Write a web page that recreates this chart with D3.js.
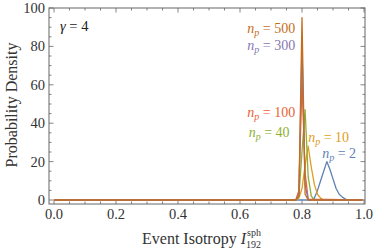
<!DOCTYPE html>
<html>
<head>
<meta charset="utf-8">
<script src="https://cdn.jsdelivr.net/npm/d3@7"></script>
<style>
  body { margin: 0; background: #fff; }
  text { font-family: "Liberation Serif", "Times New Roman", "DejaVu Serif", serif; }
</style>
</head>
<body>
<svg id="chart" width="374" height="250"></svg>
<script>
// ---- data ----
const xTicks = [0.0, 0.2, 0.4, 0.6, 0.8, 1.0];
const yTicks = [0, 20, 40, 60, 80, 100];

const np2x   = [0, 0.83, 0.84, 0.85, 0.86, 0.87, 0.88, 0.89, 0.90, 0.91, 0.92, 0.93, 0.94, 0.95, 0.995];
const np2y   = [0, 0, 1, 5, 10, 15, 20, 16, 11, 6, 3, 1.5, 0.5, 0, 0];
const np10x  = [0, 0.78, 0.79, 0.80, 0.81, 0.82, 0.83, 0.84, 0.85, 0.86, 0.87, 0.995];
const np10y  = [0, 0, 1, 6, 18, 28, 17, 8, 3, 1, 0, 0];
const np40x  = [0, 0.78, 0.79, 0.80, 0.81, 0.82, 0.83, 0.84, 0.995];
const np40y  = [0, 0, 2, 25, 47, 12, 2, 0, 0];
const np100x = [0, 0.78, 0.79, 0.80, 0.81, 0.82, 0.995];
const np100y = [0, 0, 5, 62, 14, 0.5, 0];
const np300x = [0, 0.78, 0.79, 0.80, 0.81, 0.82, 0.995];
const np300y = [0, 0, 3, 80, 8, 0, 0];
const np500x = [0, 0.78, 0.79, 0.80, 0.81, 0.82, 0.995];
const np500y = [0, 0, 2, 95, 3, 0, 0];

const seriesNames = ["2", "10", "40", "100", "300", "500"];
const seriesColors = ["#5E81B5", "#E19C24", "#8FB032", "#EB6235", "#8778B3", "#C56E1A"];
const seriesXs = [np2x, np10x, np40x, np100x, np300x, np500x];
const seriesYs = [np2y, np10y, np40y, np100y, np300y, np500y];

// label anchors (data coords) and alignment
const labelPos = [
    { x: 0.865, y: 22, anchor: "start" },
    { x: 0.82,  y: 30, anchor: "start" },
    { x: 0.76,  y: 33, anchor: "end" },
    { x: 0.778, y: 43, anchor: "end" },
    { x: 0.778, y: 78, anchor: "end" },
    { x: 0.778, y: 87, anchor: "end" }
];

// ---- layout ----
const svg = d3.select("#chart");
const frame = { left: 49, right: 365, top: 8, bottom: 204 };

const x = d3.scaleLinear().domain([0, 1]).range([54, 364]);
const y = d3.scaleLinear().domain([0, 100]).range([200, 8]);

const frameColor = "#666";

// frame
svg.append("rect")
    .attr("x", frame.left).attr("y", frame.top)
    .attr("width", frame.right - frame.left)
    .attr("height", frame.bottom - frame.top)
    .attr("fill", "none")
    .attr("stroke", frameColor)
    .attr("stroke-width", 1);

// ticks (pointing inward) on all four sides
const xMinor = d3.range(0, 1.0001, 0.05);
const yMinor = d3.range(0, 100.001, 5);
const isMajorX = v => Math.abs(v * 5 - Math.round(v * 5)) < 1e-6;
const isMajorY = v => v % 20 === 0;

const tickG = svg.append("g").attr("stroke", frameColor).attr("stroke-width", 0.8);
xMinor.forEach(v => {
    const len = isMajorX(v) ? 4.5 : 2.5;
    tickG.append("line").attr("x1", x(v)).attr("x2", x(v))
        .attr("y1", frame.bottom).attr("y2", frame.bottom - len);
    tickG.append("line").attr("x1", x(v)).attr("x2", x(v))
        .attr("y1", frame.top).attr("y2", frame.top + len);
});
yMinor.forEach(v => {
    const len = isMajorY(v) ? 4.5 : 2.5;
    tickG.append("line").attr("y1", y(v)).attr("y2", y(v))
        .attr("x1", frame.left).attr("x2", frame.left + len);
    tickG.append("line").attr("y1", y(v)).attr("y2", y(v))
        .attr("x1", frame.right).attr("x2", frame.right - len);
});

// tick labels
svg.append("g").selectAll("text").data(xTicks).join("text")
    .attr("x", d => x(d)).attr("y", 219)
    .attr("text-anchor", "middle")
    .attr("font-size", 14.5).attr("fill", "#333")
    .text(d => d.toFixed(1));

svg.append("g").selectAll("text").data(yTicks).join("text")
    .attr("x", 45).attr("y", d => y(d) + 5)
    .attr("text-anchor", "end")
    .attr("font-size", 14.5).attr("fill", "#333")
    .text(d => d);

// series lines
const line = d3.line().x(d => x(d[0])).y(d => y(d[1]));
seriesNames.forEach((name, i) => {
    const pts = seriesXs[i].map((v, j) => [v, seriesYs[i][j]]);
    svg.append("path")
        .datum(pts)
        .attr("d", line)
        .attr("fill", "none")
        .attr("stroke", seriesColors[i])
        .attr("stroke-width", 1.3)
        .attr("stroke-linejoin", "round");
});

// series labels
seriesNames.forEach((name, i) => {
    const p = labelPos[i];
    const t = svg.append("text")
        .attr("x", x(p.x)).attr("y", y(p.y))
        .attr("text-anchor", p.anchor)
        .attr("font-size", 14)
        .attr("fill", seriesColors[i]);
    t.append("tspan").attr("font-style", "italic").text("n");
    t.append("tspan").attr("font-style", "italic").attr("font-size", 10).attr("dy", 3).text("p");
    t.append("tspan").attr("dy", -3).text(" = " + name);
});

// gamma annotation
svg.append("text")
    .attr("x", 60).attr("y", 31)
    .attr("font-size", 14.5).attr("fill", "#222")
    .html('<tspan font-style="italic">γ</tspan> = 4');

// axis titles
svg.append("text")
    .attr("transform", "translate(17,105) rotate(-90)")
    .attr("text-anchor", "middle")
    .attr("font-size", 16).attr("fill", "#333")
    .text("Probability Density");

const xt = svg.append("text")
    .attr("x", 142).attr("y", 244)
    .attr("font-size", 16).attr("fill", "#333");
xt.append("tspan").text("Event Isotropy ");
xt.append("tspan").attr("font-style", "italic").text("I");
xt.append("tspan").attr("font-size", 10).attr("dy", -8).attr("dx", 1).text("sph");
xt.append("tspan").attr("font-size", 10).attr("dy", 12).attr("dx", -15).text("192");
</script>
</body>
</html>
